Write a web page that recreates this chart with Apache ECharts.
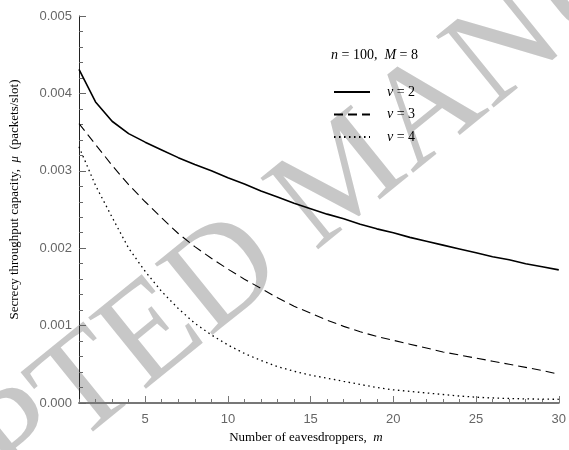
<!DOCTYPE html>
<html>
<head>
<meta charset="utf-8">
<script src="https://cdn.jsdelivr.net/npm/echarts@6/dist/echarts.min.js"></script>
<style>
  html, body { margin: 0; padding: 0; background: #fff; }
  #chart { width: 569px; height: 450px; }
</style>
</head>
<body>
<div id="chart"></div>
<script>
// number of eavesdroppers m = 1..30
var mValues = [];
for (var k = 1; k <= 30; k++) mValues.push(k);

// secrecy throughput capacity (packets/slot)
var capV2 = [0.00431, 0.00389, 0.00364, 0.00348, 0.00337, 0.00327, 0.00317, 0.00308, 0.00300, 0.00291,
             0.00283, 0.00274, 0.00266, 0.00258, 0.00251, 0.00244, 0.00238, 0.00231, 0.00225, 0.00220,
             0.00214, 0.00209, 0.00204, 0.00199, 0.00194, 0.00189, 0.00185, 0.00180, 0.00176, 0.00172];
var capV3 = [0.00361, 0.00334, 0.00307, 0.00282, 0.00260, 0.00239, 0.00219, 0.00202, 0.00187, 0.00173,
             0.00160, 0.00148, 0.00136, 0.00125, 0.00116, 0.00107, 0.00099, 0.00092, 0.00086, 0.00081,
             0.00076, 0.00071, 0.00066, 0.00062, 0.00058, 0.00054, 0.00050, 0.00046, 0.00042, 0.00037];
var capV4 = [0.00331, 0.00281, 0.00240, 0.00200, 0.00170, 0.00144, 0.00122, 0.00103, 0.00088, 0.00075,
             0.00064, 0.00055, 0.00047, 0.00041, 0.00036, 0.00032, 0.00028, 0.00024, 0.00020, 0.00017,
             0.00015, 0.00013, 0.00011, 0.00009, 0.000075, 0.000065, 0.000058, 0.000053, 0.00005, 0.000048];

var xLabelValues = [5, 10, 15, 20, 25, 30];
var seriesNames = ['v = 2', 'v = 3', 'v = 4'];

function pairs(arr) {
    var out = [];
    for (var i = 0; i < arr.length; i++) out.push([mValues[i], arr[i]]);
    return out;
}

var dom = document.getElementById('chart');
var myChart = echarts.init(dom);
var serif = '"Liberation Serif", "DejaVu Serif", serif';
var sans = '"Liberation Sans", Arial, sans-serif';

var option = {
    animation: false,
    backgroundColor: '#fff',
    grid: { left: 79, right: 10, top: 16, bottom: 47 },
    legend: {
        orient: 'vertical',
        left: 328,
        top: 80,
        itemWidth: 36,
        itemHeight: 14,
        itemGap: 8.5,
        data: seriesNames,
        itemStyle: { opacity: 0 },
        formatter: function (name) {
            return '{i|v} = ' + name.split('= ')[1];
        },
        textStyle: {
            fontFamily: serif,
            fontSize: 14,
            color: '#000',
            padding: [0, 0, 0, 12],
            rich: { i: { fontFamily: serif, fontStyle: 'italic', fontSize: 14, color: '#000' } }
        }
    },
    graphic: [
        {
            // watermark
            type: 'text',
            z: 0,
            x: 348, y: 178,
            rotation: 0.68,
            style: {
                text: 'ACCEPTED MANUSCRIPT',
                font: '140px "Liberation Serif", serif',
                fill: 'rgba(185,185,185,0.8)',
                align: 'center',
                verticalAlign: 'middle'
            }
        },
        {
            type: 'text',
            left: 331,
            top: 48,
            style: {
                text: '{i|n} = 100,  {i|M} = 8',
                fontFamily: serif,
                fontSize: 14,
                fill: '#000',
                rich: { i: { fontFamily: serif, fontStyle: 'italic', fontSize: 14 } }
            }
        }
    ],
    xAxis: [
        {
            type: 'value',
            min: 1,
            max: 30,
            name: 'Number of eavesdroppers,  {i|m}',
            nameLocation: 'middle',
            nameGap: 25,
            nameTextStyle: {
                fontFamily: serif, fontSize: 13, color: '#000',
                padding: [0, 26, 0, 0],
                rich: { i: { fontFamily: serif, fontStyle: 'italic', fontSize: 13, color: '#000' } }
            },
            axisLine: { lineStyle: { color: '#777', width: 2 } },
            axisTick: {
                inside: true, length: 4,
                customValues: mValues,
                lineStyle: { color: '#777' }
            },
            axisLabel: {
                customValues: xLabelValues,
                fontFamily: sans, fontSize: 13, color: '#666', margin: 10
            },
            splitLine: { show: false }
        },
        {
            type: 'value',
            min: 1,
            max: 30,
            position: 'bottom',
            axisLine: { show: false },
            axisTick: {
                inside: true, length: 7,
                customValues: xLabelValues,
                lineStyle: { color: '#777' }
            },
            axisLabel: { show: false },
            splitLine: { show: false }
        }
    ],
    yAxis: {
        type: 'value',
        min: 0,
        max: 0.005,
        interval: 0.001,
        name: 'Secrecy throughput capacity,  {i|μ}  (packets/slot)',
        nameLocation: 'middle',
        nameGap: 58,
        nameTextStyle: {
            fontFamily: serif, fontSize: 13, color: '#000',
            padding: [0, 0, 0, 20],
            rich: { i: { fontFamily: serif, fontStyle: 'italic', fontSize: 13, color: '#000' } }
        },
        axisLine: { show: true, lineStyle: { color: '#222', width: 1 } },
        axisTick: { show: true, inside: true, length: 7, lineStyle: { color: '#666' } },
        minorTick: { show: true, splitNumber: 5, length: 4, lineStyle: { color: '#666' } },
        axisLabel: {
            fontFamily: sans, fontSize: 13, color: '#666', margin: 7,
            formatter: function (v) { return v.toFixed(3); }
        },
        splitLine: { show: false }
    },
    series: [
        {
            name: seriesNames[0],
            type: 'line',
            data: pairs(capV2),
            symbol: 'none',
            z: 5,
            lineStyle: { color: '#000', width: 1.6, type: 'solid' }
        },
        {
            name: seriesNames[1],
            type: 'line',
            data: pairs(capV3),
            symbol: 'none',
            z: 5,
            lineStyle: { color: '#000', width: 1.1, type: [9, 5] }
        },
        {
            name: seriesNames[2],
            type: 'line',
            data: pairs(capV4),
            symbol: 'none',
            z: 5,
            lineStyle: { color: '#000', width: 1.3, type: [1.5, 3.5] }
        }
    ]
};

myChart.setOption(option);
window.addEventListener('resize', function () {
    myChart.resize();
});
</script>
</body>
</html>
